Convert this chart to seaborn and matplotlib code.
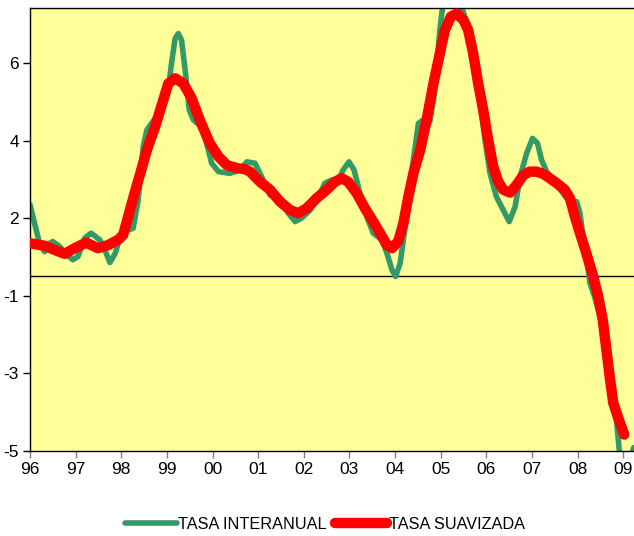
import numpy as np
import pandas as pd
import seaborn as sns
import matplotlib.pyplot as plt

# valores (fecha decimal, tasa)
fecha_interanual = [1996.00, 1996.10, 1996.21, 1996.32, 1996.43, 1996.50, 1996.65, 1996.80,
                    1996.94, 1997.05, 1997.20, 1997.34, 1997.53, 1997.64, 1997.75, 1997.87,
                    1998.00, 1998.15, 1998.26, 1998.37, 1998.48, 1998.56, 1998.74, 1998.92,
                    1999.03, 1999.10, 1999.18, 1999.25, 1999.32, 1999.40, 1999.49, 1999.58,
                    1999.76, 1999.87, 1999.98, 2000.13, 2000.38, 2000.60, 2000.75, 2000.93,
                    2001.11, 2001.26, 2001.41, 2001.51, 2001.66, 2001.81, 2001.95, 2002.14,
                    2002.32, 2002.46, 2002.61, 2002.76, 2002.86, 2002.99, 2003.10, 2003.23,
                    2003.38, 2003.52, 2003.71, 2003.82, 2003.93, 2004.01, 2004.11, 2004.22,
                    2004.33, 2004.44, 2004.51, 2004.62, 2004.76, 2004.84, 2004.91, 2004.98,
                    2005.04, 2005.13, 2005.24, 2005.35, 2005.46, 2005.57, 2005.71, 2005.86,
                    2005.97, 2006.08, 2006.22, 2006.37, 2006.50, 2006.63, 2006.74, 2006.88,
                    2007.01, 2007.12, 2007.21, 2007.32, 2007.47, 2007.65, 2007.79, 2007.98,
                    2008.05, 2008.12, 2008.20, 2008.27, 2008.38, 2008.49, 2008.60, 2008.71,
                    2008.80, 2008.85, 2008.91, 2009.04, 2009.23]
tasa_interanual = [2.05, 1.51, 0.94, 0.70, 0.94, 0.99, 0.85, 0.61,
                   0.47, 0.56, 1.09, 1.23, 1.04, 0.75, 0.39, 0.66,
                   1.23, 1.32, 1.37, 2.18, 3.70, 4.18, 4.51, 4.85,
                   5.32, 6.09, 6.80, 6.94, 6.75, 5.89, 4.75, 4.47,
                   4.27, 3.80, 3.23, 2.99, 2.94, 3.04, 3.27, 3.23,
                   2.75, 2.32, 2.27, 2.18, 1.80, 1.56, 1.66, 1.89,
                   2.27, 2.66, 2.75, 2.75, 3.04, 3.27, 3.04, 2.37,
                   1.70, 1.23, 1.04, 0.66, 0.18, -0.01, 0.37, 1.42,
                   2.70, 3.70, 4.37, 4.47, 4.42, 5.04, 5.99, 7.04,
                   7.70, 8.05, 8.15, 8.00, 7.70, 7.23, 6.37, 5.04,
                   3.89, 2.94, 2.27, 1.89, 1.56, 1.99, 2.85, 3.51,
                   3.94, 3.80, 3.32, 2.99, 2.75, 2.42, 2.18, 2.13,
                   1.80, 1.13, 0.47, -0.20, -0.63, -1.15, -1.82, -2.58,
                   -3.44, -4.11, -4.96, -5.60, -4.90]

fecha_suavizada = [1996.00, 1996.32, 1996.54, 1996.76, 1996.98, 1997.23, 1997.49, 1997.71,
                   1997.93, 1998.04, 1998.15, 1998.29, 1998.43, 1998.56, 1998.74, 1998.92,
                   1999.03, 1999.18, 1999.36, 1999.54, 1999.72, 1999.94, 2000.13, 2000.31,
                   2000.53, 2000.71, 2000.82, 2001.04, 2001.26, 2001.48, 2001.70, 2001.88,
                   2002.06, 2002.28, 2002.50, 2002.68, 2002.83, 2002.97, 2003.16, 2003.34,
                   2003.52, 2003.67, 2003.82, 2003.93, 2004.07, 2004.18, 2004.29, 2004.40,
                   2004.55, 2004.69, 2004.84, 2004.98, 2005.09, 2005.22, 2005.35, 2005.50,
                   2005.60, 2005.71, 2005.82, 2005.93, 2006.04, 2006.15, 2006.26, 2006.37,
                   2006.52, 2006.66, 2006.81, 2006.95, 2007.10, 2007.25, 2007.39, 2007.54,
                   2007.72, 2007.83, 2007.94, 2008.05, 2008.20, 2008.34, 2008.45, 2008.55,
                   2008.62, 2008.71, 2008.78, 2008.89, 2009.02]
tasa_suavizada = [0.94, 0.87, 0.75, 0.64, 0.80, 0.96, 0.80, 0.89,
                  1.04, 1.18, 1.70, 2.37, 3.00, 3.61, 4.27, 5.04,
                  5.51, 5.66, 5.51, 5.09, 4.47, 3.80, 3.42, 3.18,
                  3.09, 3.06, 2.99, 2.70, 2.47, 2.13, 1.89, 1.80,
                  1.94, 2.23, 2.47, 2.70, 2.80, 2.70, 2.37, 1.94,
                  1.56, 1.23, 0.89, 0.80, 1.00, 1.51, 2.27, 2.94,
                  3.61, 4.47, 5.51, 6.37, 7.04, 7.42, 7.51, 7.32,
                  7.04, 6.37, 5.51, 4.75, 3.89, 3.13, 2.70, 2.47,
                  2.39, 2.61, 2.89, 2.99, 2.99, 2.92, 2.80, 2.66,
                  2.47, 2.23, 1.70, 1.23, 0.61, -0.01, -0.58, -1.25,
                  -2.01, -2.96, -3.63, -4.06, -4.53]

anios = list(range(1996, 2010))
etiquetas_x = ['96', '97', '98', '99', '00', '01', '02', '03', '04', '05', '06', '07', '08', '09']
etiquetas_y = ['-5', '-3', '-1', '2', '4', '6']

sns.set_style("white")
plt.rcParams['font.family'] = ['Liberation Sans', 'DejaVu Sans']
plt.rcParams['text.color'] = 'black'
plt.rcParams['xtick.color'] = 'black'
plt.rcParams['ytick.color'] = 'black'

fig = plt.figure(figsize=(6.34, 5.36), dpi=100)
ax = fig.add_axes([30 / 634, 1 - 451 / 536, 604 / 634, 443 / 536])
ax.set_facecolor('#FFFF99')

df_i = pd.DataFrame({'fecha': fecha_interanual, 'tasa': tasa_interanual})
df_s = pd.DataFrame({'fecha': fecha_suavizada, 'tasa': tasa_suavizada})

ax.axhline(0, color='black', lw=1.0, zorder=1)
sns.lineplot(data=df_i, x='fecha', y='tasa', ax=ax, color='#339966', lw=4.0,
             label='TASA INTERANUAL', sort=False, solid_capstyle='round',
             solid_joinstyle='round', zorder=2)
sns.lineplot(data=df_s, x='fecha', y='tasa', ax=ax, color='#FF0000', lw=7.5,
             label='TASA SUAVIZADA', sort=False, solid_capstyle='round',
             solid_joinstyle='round', zorder=3)

ax.set_xlim(1996, 1996 + 604 / 45.64)
ax.set_ylim(-5, 7.67)
ax.set_xticks(anios)
ax.set_xticklabels(etiquetas_x, fontsize=12.5)
ax.set_yticks(np.linspace(-5, 6.1, 6))
ax.set_yticklabels(etiquetas_y, fontsize=12.5)
ax.tick_params(axis='both', direction='out', length=5, width=1,
               left=True, bottom=True, pad=3)
ax.tick_params(axis='x', color='#808080')
ax.set_xlabel('')
ax.set_ylabel('')

for lado in ['left', 'top', 'bottom']:
    ax.spines[lado].set_visible(True)
    ax.spines[lado].set_color('black')
    ax.spines[lado].set_linewidth(1.0)
ax.spines['right'].set_visible(False)

ax.legend(loc='center', bbox_to_anchor=(0.488, -0.165), ncol=2, frameon=False,
          fontsize=11.7, handlelength=3.2, handletextpad=0.1, columnspacing=0.5)

fig.savefig('out.png', dpi=100)
